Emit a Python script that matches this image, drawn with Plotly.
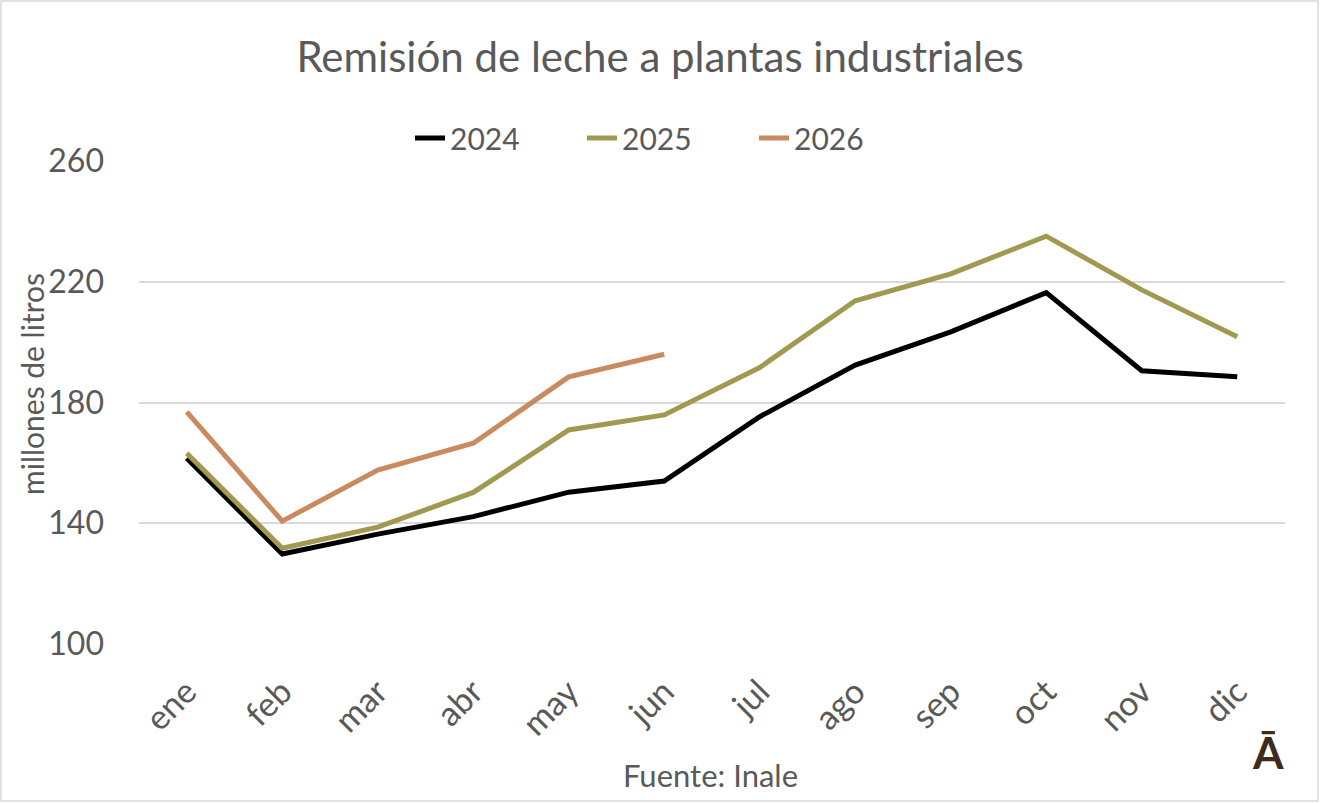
import plotly.graph_objects as go

months = ["ene", "feb", "mar", "abr", "may", "jun", "jul", "ago", "sep", "oct", "nov", "dic"]
v2024 = [161.5, 129.8, 136.4, 142.2, 150.3, 154.0, 175.3, 192.4, 203.4, 216.4, 190.5, 188.5]
v2025 = [163.2, 131.7, 138.7, 150.2, 170.9, 175.9, 191.6, 213.7, 222.6, 235.1, 217.3, 201.8]
v2026 = [176.9, 140.7, 157.6, 166.5, 188.5, 196.0]
y_ticks = [100, 140, 180, 220, 260]

FONT = "Lato"
GRAY = "#595959"

fig = go.Figure()
for name, vals, col in [("2024", v2024, "#000000"), ("2025", v2025, "#A0994F"), ("2026", v2026, "#C98A5F")]:
    fig.add_trace(go.Scatter(x=months[:len(vals)], y=vals, mode="lines", name=name,
                             line=dict(color=col, width=5)))

W, H = 1320, 803
L, R, T, B = 139, 35, 161, 159
pw, ph = W - L - R, H - T - B

def px(x):
    return (x - L) / pw

def py(y):
    return (H - B - y) / ph

fig.update_layout(
    width=W, height=H,
    margin=dict(l=L, r=R, t=T, b=B, autoexpand=False),
    paper_bgcolor="white", plot_bgcolor="white",
    font=dict(family=FONT, color=GRAY, size=29),
    title=dict(text="Remisión de leche a plantas industriales", x=0.5, xref="container",
               xanchor="center", y=1 - 57 / H, yref="container", yanchor="middle",
               font=dict(size=42, color=GRAY, family=FONT)),
    showlegend=True,
    legend=dict(orientation="h", x=px(668), xanchor="center", y=py(138), yanchor="middle",
                font=dict(size=30, color=GRAY), entrywidth=127, bgcolor="rgba(0,0,0,0)"),
    xaxis=dict(type="category", categoryorder="array", categoryarray=months,
               range=[-0.5, 11.5], showgrid=False, zeroline=False, showline=False,
               ticks="", tickangle=-45, tickfont=dict(size=34, color=GRAY),
               ticklabelstandoff=20),
    yaxis=dict(range=[100, 260], tickvals=y_ticks, showgrid=True, gridcolor="#D9D9D9",
               gridwidth=1.5, zeroline=False, showline=False, ticks="",
               tickfont=dict(size=32, color=GRAY), ticklabelstandoff=34),
    shapes=[dict(type="rect", xref="paper", yref="paper",
                 x0=px(1), x1=px(1318), y0=py(801), y1=py(1),
                 line=dict(color="#D9D9D9", width=1.5), fillcolor="rgba(0,0,0,0)", layer="below")],
    annotations=[
        dict(text="millones de litros", xref="paper", yref="paper", x=px(32), y=py(384),
             xanchor="center", yanchor="middle", textangle=-90, showarrow=False,
             font=dict(size=30, color=GRAY, family=FONT)),
        dict(text="Fuente: Inale", xref="paper", yref="paper", x=px(710), y=py(775),
             xanchor="center", yanchor="middle", showarrow=False,
             font=dict(size=31, color=GRAY, family=FONT)),
        dict(text="<b>Ā</b>", xref="paper", yref="paper", x=px(1268), y=py(752),
             xanchor="center", yanchor="middle", showarrow=False,
             font=dict(size=44, color="#3F2B1D", family=FONT)),
    ],
)

fig.write_html("out.html", config={"displayModeBar": False},
               post_script="document.body.style.margin='0';")
